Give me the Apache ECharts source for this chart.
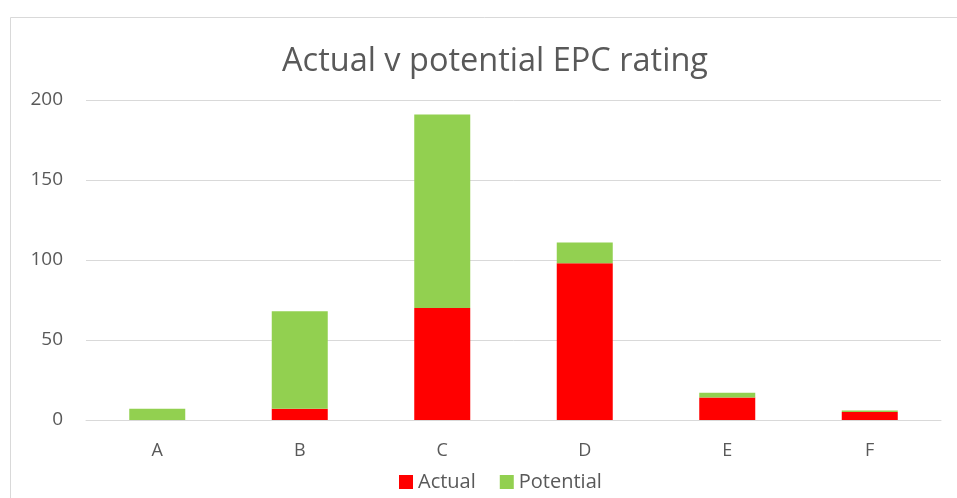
<!DOCTYPE html>
<html><head><meta charset="utf-8">
<script src="https://cdn.jsdelivr.net/npm/echarts@6/dist/echarts.min.js"></script>
<style>html,body{margin:0;padding:0;background:#fff}#c{width:957px;height:498px}</style>
</head><body><div id="c"></div>
<script>
const categories = ['A','B','C','D','E','F'];
const actual = [0, 7, 70, 98, 14, 5];
const potential = [7, 61, 121, 13, 3, 1];
const yTicks = [0, 50, 100, 150, 200];

const chart = echarts.init(document.getElementById('c'));
const font = '"Open Sans", "Liberation Sans", sans-serif';
chart.setOption({
  animation: false,
  backgroundColor: '#fff',
  graphic: [{
    type: 'rect', shape: {x: 10.5, y: 17.5, width: 960, height: 500},
    style: {fill: 'none', stroke: '#d9d9d9', lineWidth: 1}, silent: true
  }],
  title: {
    text: 'Actual v potential EPC rating', left: 490, textAlign: 'center', top: 40,
    textStyle: {fontFamily: font, fontSize: 32.5, fontWeight: 'normal', color: '#595959'}
  },
  legend: {
    data: ['Actual','Potential'], left: 394, top: 467, itemWidth: 14, itemHeight: 14, itemGap: 24,
    icon: 'rect', textStyle: {fontFamily: font, fontSize: 20, color: '#595959'}
  },
  grid: {left: 86, right: 16, top: 100, bottom: 78, containLabel: false},
  xAxis: {
    type: 'category', data: categories,
    axisLine: {lineStyle: {color: '#d9d9d9', width: 1}}, axisTick: {show: false},
    axisLabel: {fontFamily: font, fontSize: 18, color: '#595959', margin: 22}
  },
  yAxis: {
    type: 'value', min: yTicks[0], max: yTicks[yTicks.length-1], interval: 50,
    axisLine: {show: false}, axisTick: {show: false},
    splitLine: {lineStyle: {color: '#d9d9d9', width: 1}},
    axisLabel: {fontFamily: font, fontSize: 19, color: '#595959', margin: 23}
  },
  series: [
    {name: 'Actual', type: 'bar', stack: 't', data: actual, barWidth: 56, itemStyle: {color: '#FF0000'}},
    {name: 'Potential', type: 'bar', stack: 't', data: potential, barWidth: 56, itemStyle: {color: '#92D050'}}
  ]
});
</script></body></html>
